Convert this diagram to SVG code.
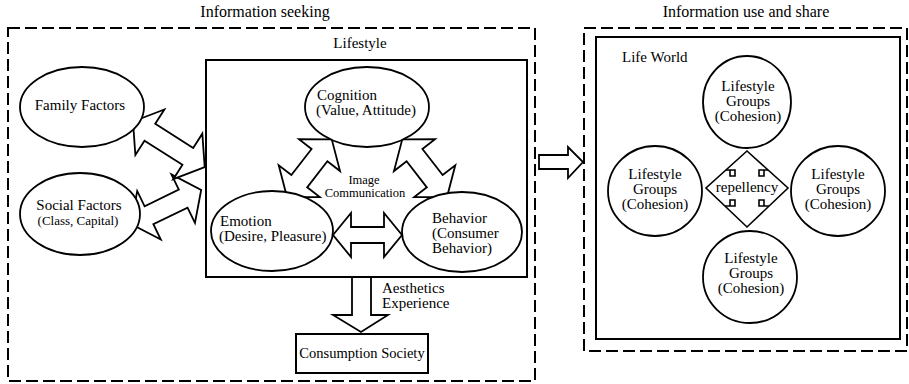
<svg xmlns="http://www.w3.org/2000/svg" width="909" height="384" viewBox="0 0 909 384" font-family="'Liberation Serif', 'Times New Roman', 'DejaVu Serif', serif">
<style>
text{font-family:'Liberation Serif','Times New Roman','DejaVu Serif',serif;fill:#000}
.t15{font-size:15px}
.t16{font-size:16px}
.t13{font-size:13px}
.c{text-anchor:middle}
.dash{fill:none;stroke:#000;stroke-width:2;stroke-dasharray:12 5}
.box{fill:none;stroke:#000;stroke-width:2}
.shape{fill:#fff;stroke:#000;stroke-width:1.8}
.arr{fill:#fff;stroke:#000;stroke-width:1.8;stroke-linejoin:miter}
.ln{fill:none;stroke:#000;stroke-width:1.6}
</style>
<rect width="909" height="384" fill="#fff"/>

<g id="info-seeking">
<rect class="dash" x="8" y="28" width="527" height="353"/>
<text class="t16 c" x="265" y="17">Information seeking</text>
</g>
<g id="info-use">
<rect class="dash" x="584" y="28" width="323" height="323"/>
<text class="t16 c" x="746" y="17">Information use and share</text>
</g>

<g id="lifestyle">
<rect class="box" x="206" y="60" width="321" height="217"/>
<text class="t15 c" x="360" y="48">Lifestyle</text>
</g>

<g id="connectors">
<polygon class="arr" transform="translate(131,224) rotate(-25.9)" points="0,0 20,-27 20,-10 58,-10 58,-27 78,0 58,27 58,10 20,10 20,27"/>
<polygon class="arr" transform="translate(133,121.5) rotate(32.5)" points="0,0 20,-27 20,-10 65,-10 65,-27 85,0 65,27 65,10 20,10 20,27"/>
<polygon class="arr" transform="translate(287,197) rotate(-52.2)" points="0,0 20,-26 20,-10 53,-10 53,-26 73,0 53,26 53,10 20,10 20,26"/>
<polygon class="arr" transform="translate(447,197) rotate(-127.8)" points="0,0 20,-26 20,-10 53,-10 53,-26 73,0 53,26 53,10 20,10 20,26"/>
<polygon class="arr" points="333,235 351,213 351,227 384,227 384,213 402,235 384,257 384,243 351,243 351,257"/>
<polygon class="arr" points="352,277 371,277 371,315 388,315 361,332 333,315 352,315"/>
<polygon class="arr" points="539,155 568,155 568,147 583,162 568,178 568,169 539,169"/>
<polygon class="ln" points="747,151 788,188 747,227 706,188"/>
<path class="ln" d="M726,170 H735 V176 H730 V170 M768,170 H759 V176 H764 V170 M725,206 H735 V200 H730 V206 M769,206 H759 V200 H764 V206"/>
</g>

<g id="family">
<ellipse class="shape" cx="82" cy="107" rx="62" ry="40"/>
<text class="t15 c" x="80" y="110">Family Factors</text>
</g>
<g id="social">
<ellipse class="shape" cx="80" cy="214" rx="60" ry="41"/>
<text class="t15 c" x="79" y="210">Social Factors</text>
<text class="t13 c" x="78" y="225">(Class, Capital)</text>
</g>
<g id="cognition">
<ellipse class="shape" cx="367" cy="107" rx="62" ry="40"/>
<text class="t15" x="317" y="100">Cognition</text>
<text class="t15" x="316" y="115">(Value, Attitude)</text>
</g>
<g id="emotion">
<ellipse class="shape" cx="272" cy="231" rx="61" ry="40"/>
<text class="t15" x="220" y="226">Emotion</text>
<text class="t15" x="219" y="241">(Desire, Pleasure)</text>
</g>
<g id="behavior">
<ellipse class="shape" cx="462" cy="232" rx="60" ry="40"/>
<text class="t15" x="432" y="223">Behavior</text>
<text class="t15" x="432" y="238">(Consumer</text>
<text class="t15" x="432" y="253">Behavior)</text>
</g>
<g id="image-comm">
<text class="c" style="font-size:12.5px" x="364" y="184">Image</text>
<text class="c" style="font-size:12.5px" x="365" y="197">Communication</text>
</g>
<g id="aesthetics">
<text class="t15" x="382" y="293">Aesthetics</text>
<text class="t15" x="382" y="308">Experience</text>
</g>
<g id="consumption">
<rect class="box" x="296" y="334" width="132" height="39"/>
<text class="c" style="font-size:14.5px" x="362" y="358">Consumption Society</text>
</g>

<g id="life-world">
<rect class="box" x="596" y="37" width="304" height="302"/>
<text class="t15" x="622" y="62">Life World</text>
</g>
<g id="group-top">
<ellipse class="shape" cx="747" cy="102" rx="44" ry="46"/>
<text class="t15 c" x="748" y="91">Lifestyle</text>
<text class="t15 c" x="748" y="106">Groups</text>
<text class="t15 c" x="748" y="121">(Cohesion)</text>
</g>
<g id="group-left">
<ellipse class="shape" cx="655" cy="191" rx="47" ry="45"/>
<text class="t15 c" x="655" y="179">Lifestyle</text>
<text class="t15 c" x="655" y="194">Groups</text>
<text class="t15 c" x="655" y="209">(Cohesion)</text>
</g>
<g id="group-right">
<ellipse class="shape" cx="838" cy="191" rx="47" ry="45"/>
<text class="t15 c" x="838" y="179">Lifestyle</text>
<text class="t15 c" x="838" y="194">Groups</text>
<text class="t15 c" x="838" y="209">(Cohesion)</text>
</g>
<g id="group-bottom">
<ellipse class="shape" cx="750" cy="277" rx="47" ry="46"/>
<text class="t15 c" x="751" y="263">Lifestyle</text>
<text class="t15 c" x="751" y="278">Groups</text>
<text class="t15 c" x="751" y="293">(Cohesion)</text>
</g>
<g id="repellency">
<text class="t15 c" x="747" y="192">repellency</text>
</g>
</svg>
